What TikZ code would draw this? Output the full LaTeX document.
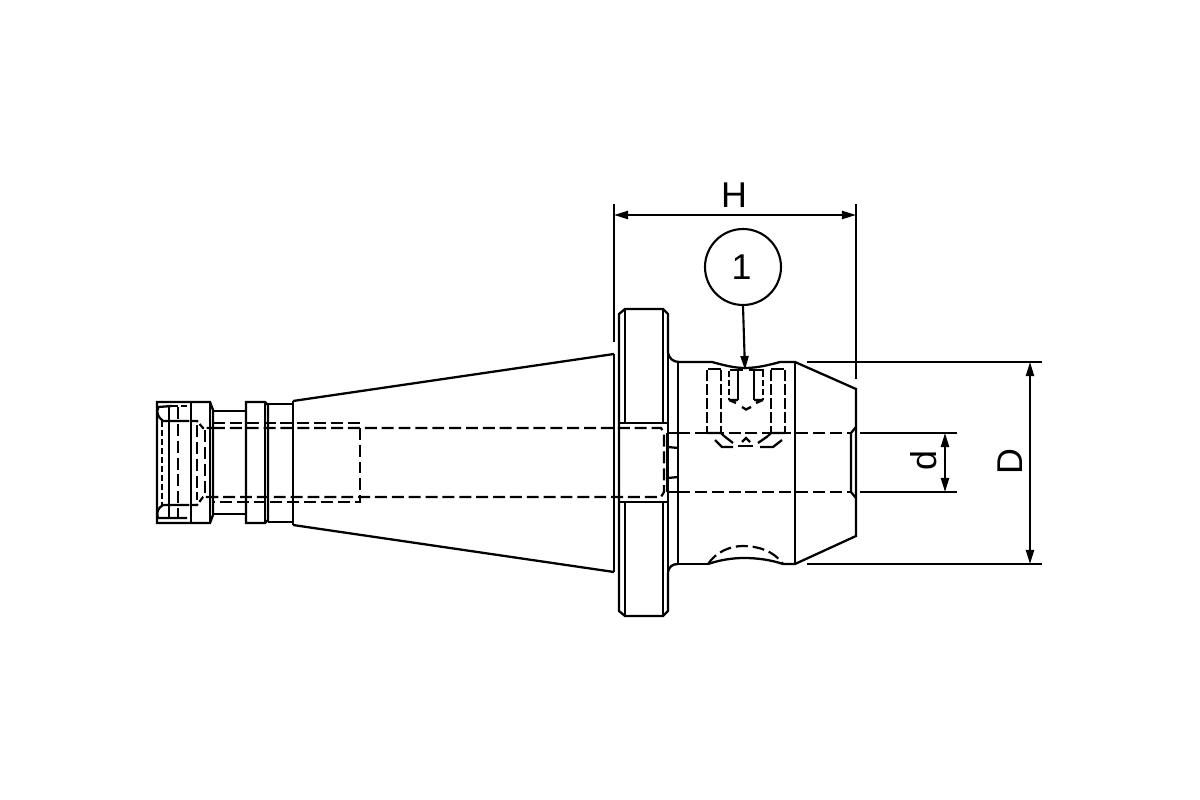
\documentclass[tikz,border=0pt]{standalone}
\usepackage{fontspec}
\setmainfont{Liberation Sans}
\usetikzlibrary{arrows.meta}
\tikzset{
  edge/.style={line width=1.3pt,line join=miter,line cap=butt},
  thin edge/.style={line width=1.15pt},
  hid/.style={line width=1.25pt,dash pattern=on 6.8pt off 2.8pt},
  hids/.style={line width=1.25pt,dash pattern=on 6pt off 2pt},
  hidt/.style={line width=1.25pt,dash pattern=on 3.6pt off 1.5pt},
  dim/.style={line width=1.2pt},
  dimarrow/.style={line width=1.2pt,{Stealth[length=8pt,width=4.6pt,inset=0pt]}-{Stealth[length=8pt,width=4.6pt,inset=0pt]}},
  label/.style={font=\fontsize{20.4pt}{24pt}\selectfont,inner sep=0pt,text=black},
  balloon/.style={draw,circle,line width=1.2pt,minimum size=1.52cm,inner sep=0pt,font=\fontsize{20.4pt}{24pt}\selectfont},
}
\begin{document}
\begin{tikzpicture}[x=0.02cm,y=-0.02cm]
\fill[white] (0,0) rectangle (1200,800);
\useasboundingbox (0,0) rectangle (1200,800);

% --- left nut and collar
\draw[edge] (210,402) -- (157,402) -- (157,523) -- (210,523) -- (213,515) -- (213,410) -- cycle;
\draw[edge] (191,402) -- (191,523);
\draw[thin edge] (210,402) -- (210,523);
\draw[edge] (213,411) -- (246,411) (213,514) -- (246,514);
\draw[edge] (265,402) -- (246,402) -- (246,523) -- (265,523) -- (268,520) -- (268,405) -- cycle;
\draw[thin edge] (265,402) -- (265,523);
\draw[edge] (268,404) -- (293,404) (268,522) -- (293,522);
\draw[edge] (293,401) -- (293,525);

% nut internals
\draw[edge] (158,408) .. controls (156,413) and (158,417) .. (163,421) -- (183,421);
\draw[edge] (158,518) .. controls (156,512) and (158,508) .. (163,505) -- (183,505);
\draw[edge] (158,407) -- (172,406) (158,518) -- (187,518);
\draw[edge] (169,407) -- (169,518);
\draw[hidt] (172,406) -- (191,406);
\draw[hid] (178,407) -- (178,518);
\draw[hidt] (162,421) -- (162,505);
\draw[hidt] (183,421) -- (197,421) -- (203,428) -- (213,428);
\draw[hidt] (183,505) -- (197,505) -- (203,497) -- (213,497);
\draw[hid] (197,425) -- (197,500);
\draw[hid] (205,430) -- (205,497);

% long bore dashes
\draw[hid] (213,423) -- (360,423) -- (360,502) -- (213,502);
\draw[hid] (213,428) -- (661,428) -- (664,433) -- (664,492) -- (661,497) -- (213,497);

% --- cone
\draw[edge] (293,401) -- (614,354) (293,525) -- (614,572);
\draw[edge] (614,354) -- (614,572);

% --- flange
\draw[edge] (668,353) -- (668,314) -- (663,309) -- (625,309) -- (619,314) -- (619,611) -- (625,616) -- (663,616) -- (668,611) -- (668,572);
\draw[edge] (625,309) -- (625,423) (663,309) -- (663,423);
\draw[edge] (625,502) -- (625,616) (663,502) -- (663,616);
\draw[edge] (619,423) -- (668,423) (619,502) -- (668,502);
\draw[edge] (668,492) -- (668,572) (668,353) -- (668,433);
\draw[line width=1.7pt] (667,433) -- (667,492);
\draw[edge] (668,447) -- (678,448) (668,478) -- (678,477);
\draw[edge] (667,433) -- (678,433) (667,492) -- (678,492);

% fillets
\draw[edge] (668,353) .. controls (669,358) and (673,362) .. (679,362);
\draw[edge] (668,572) .. controls (669,567) and (672,564) .. (678,564);

% --- body
\draw[edge] (678,362) -- (678,564);
\draw[edge] (678,362) -- (712,362) .. controls (723,365) and (734,368) .. (745,368) .. controls (757,368) and (769,365) .. (780,362) -- (795,362) -- (856,389) -- (856,536) -- (795,564) -- (783,564);
\draw[edge] (678,564) -- (708,564);
\draw[edge] (708,564) .. controls (720,560) and (732,558) .. (744,558) .. controls (758,558) and (771,560) .. (783,564);
\draw[hid] (708,564) .. controls (716,552) and (730,546) .. (743,546) .. controls (758,546) and (774,551) .. (783,564);
\draw[edge] (795,362) -- (795,564);
\draw[edge] (851,433) -- (851,492) (851,433) -- (856,427) (851,492) -- (856,498);
\draw[hid] (678,433) -- (851,433) (678,492) -- (851,492);

% --- set screw (hidden)
\draw[edge] (708,369) -- (721,369) (730,370) -- (743,370) (749,370) -- (764,370) (771,369) -- (784,369);
\draw[hids] (707,370) -- (707,433) (721,370) -- (721,433) (771,370) -- (771,433) (785,370) -- (785,433);
\draw[edge] (707,433) -- (721,433) -- (724,436) (771,433) -- (785,433) (771,433) -- (768,436);
\draw[hidt] (729,371) -- (729,400) (763,371) -- (763,400);
\draw[edge] (738,371) -- (738,400) (754,371) -- (754,400);
\draw[edge] (729,400) -- (738,400) (729,400) -- (736,403) (754,400) -- (763,400) (763,400) -- (756,403);
\draw[edge] (742,407) -- (746,409.5) -- (751,407);
\draw[edge] (724,436) -- (733,443) (768,436) -- (758,443);
\draw[edge] (715,440) -- (722,447) -- (733,447) (760,447) -- (773,447) -- (782,440);
\draw[edge] (738,446) -- (753,446);
\draw[edge] (742,442) -- (746,438) -- (750,442);

% --- dimensions
\coordinate (hl) at (614,215);
\coordinate (hr) at (856,215);
\draw[dim] (614,204) -- (614,342);
\draw[dim] (856,204) -- (856,379);
\draw[dimarrow] (hl) -- (hr);
\node[label] (H) at (734,195) {H};

\draw[dim] (807,362) -- (1042,362) (807,564) -- (1042,564);
\coordinate (dt) at (1030,362);
\coordinate (db) at (1030,564);
\draw[dimarrow] (dt) -- (db);
\node[label,rotate=90] (D) at (1010,462) {D};

\draw[dim] (860,433) -- (957,433) (860,492) -- (957,492);
\coordinate (st) at (945,433);
\coordinate (sb) at (945,492);
\draw[dimarrow] (st) -- (sb);
\node[label,rotate=90] (d) at (924,461) {d};

\node[balloon] (one) at (743,267) {};
\node[label] (onetext) at (741.5,267) {1};
\coordinate (screw) at (745,370);
\draw[dim,-{Stealth[length=8pt,width=4.6pt,inset=0pt]}] (one.south) -- (screw);
\end{tikzpicture}
\end{document}
